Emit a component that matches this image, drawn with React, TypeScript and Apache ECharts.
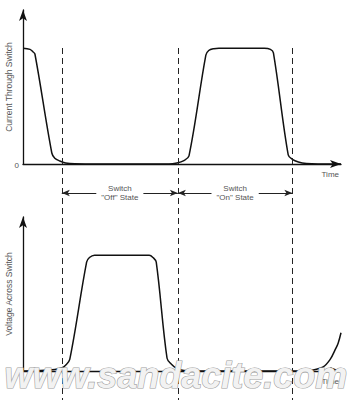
import React, { useEffect, useRef } from "react";
import * as echarts from "echarts";

// time (arbitrary units 0..100) and normalized levels (1 = full)
const currentTime = [0, 2.2, 3.1, 3.75, 9.06, 10.0, 11.56, 13.4, 16.25, 24.1, 45.9, 48.4, 50.6, 52.2, 57.5, 58.4, 60.0, 61.6, 75.9, 77.8, 78.75, 83.4, 84.7, 86.6, 89.1, 92.8, 100];
const currentVal = [1.0, 0.99, 0.97, 0.95, 0.095, 0.05, 0.026, 0.009, 0.002, 0, 0, 0.009, 0.03, 0.07, 0.94, 0.98, 0.996, 1.0, 1.0, 0.99, 0.96, 0.078, 0.04, 0.017, 0.004, 0, 0];

const voltageTime = [0, 5.3, 10, 12.2, 13.4, 14.7, 20, 20.9, 22.5, 39.7, 40.9, 41.9, 45.3, 46.6, 48.4, 50.6, 53.75, 86.6, 91.25, 94.4, 96.6, 98.1, 99.1, 100];
const voltageVal = [0, 0.004, 0.013, 0.026, 0.05, 0.1, 0.94, 0.98, 1.0, 1.0, 0.98, 0.94, 0.11, 0.06, 0.02, 0.004, 0, 0, 0.009, 0.035, 0.1, 0.18, 0.24, 0.33];

const switchEdges = [12.2, 48.7, 84.7];
const stateLabels = ['Switch\n"Off" State', 'Switch\n"On" State'];
const yNames = ["Current Through Switch", "Voltage Across Switch"];
const xName = "Time";
const zeroLabel = "0";

const FONT = "Liberation Sans";
const TXT = "#555";

export default function App() {
  const ref = useRef<HTMLDivElement>(null);
  useEffect(() => {
    if (!ref.current) return;
    const chart = echarts.init(ref.current, null, { renderer: "svg" });
    const yMax = 1.33;
    const mkX = (gi: number, show: boolean) => ({
      type: "value",
      gridIndex: gi,
      min: 0,
      max: 100,
      show,
      name: show ? xName : "",
      nameLocation: "end",
      nameGap: 0,
      nameTextStyle: { color: TXT, fontSize: 8, fontFamily: FONT, align: "right", verticalAlign: "top", padding: [6, 2, 0, 0] },
      axisLine: { show, lineStyle: { color: "#111", width: 1.3 }, symbol: ["none", "arrow"], symbolSize: [6, 11] },
      axisTick: { show: false },
      axisLabel: { show: false },
      splitLine: { show: false },
    });
    const mkY = (gi: number, name: string) => ({
      type: "value",
      gridIndex: gi,
      min: 0,
      max: yMax,
      interval: yMax,
      name,
      nameLocation: "middle",
      nameGap: 10,
      nameMoveOverlap: false,
      nameTextStyle: { color: TXT, fontSize: 8.5, fontFamily: FONT },
      axisLine: { show: true, lineStyle: { color: "#111", width: 1.3 }, symbol: ["none", "arrow"], symbolSize: [6, 11] },
      axisTick: { show: false },
      axisLabel: { show: false },
      splitLine: { show: false },
    });
    const lineStyle = { color: "#111", width: 1.5 };
    const annY = 0.412;
    const gridBase = { left: 23, right: 14, outerBoundsMode: "none", containLabel: false };
    chart.setOption({
      animation: false,
      grid: [
        { ...gridBase, top: 10, bottom: 236 },
        { ...gridBase, top: 217, bottom: 29 },
        { ...gridBase, top: 48, bottom: 0 },
      ],
      xAxis: [mkX(0, true), mkX(1, true), mkX(2, false)],
      yAxis: [
        mkY(0, yNames[0]),
        mkY(1, yNames[1]),
        { type: "value", gridIndex: 2, min: 0, max: 1, inverse: true, show: false },
      ],
      series: [
        {
          type: "line",
          xAxisIndex: 0,
          yAxisIndex: 0,
          data: currentTime.map((t, i) => [t, currentVal[i]]),
          smooth: 0.35,
          symbol: "none",
          lineStyle,
        },
        {
          type: "line",
          xAxisIndex: 1,
          yAxisIndex: 1,
          data: voltageTime.map((t, i) => [t, voltageVal[i]]),
          smooth: 0.35,
          symbol: "none",
          lineStyle,
        },
        {
          type: "line",
          xAxisIndex: 2,
          yAxisIndex: 2,
          data: [[0, 0]],
          symbol: "none",
          lineStyle: { width: 0 },
          silent: true,
          markLine: {
            silent: true,
            symbol: "none",
            lineStyle: { color: "#222", width: 1, type: [6, 4] },
            label: { show: false },
            data: switchEdges.map((x) => ({ xAxis: x })),
          },
        },
        ...stateLabels.map((lab, i) => ({
          type: "line",
          xAxisIndex: 2,
          yAxisIndex: 2,
          data: [[0, 0]],
          symbol: "none",
          color: "#222",
          lineStyle: { width: 0 },
          silent: true,
          markLine: {
            silent: true,
            symbol: ["arrow", "arrow"],
            symbolSize: [5, 8],
            itemStyle: { color: "#222" },
            lineStyle: { color: "#222", width: 1, type: "solid" },
            label: {
              show: true,
              position: "insideMiddle",
              formatter: lab,
              color: TXT,
              fontSize: 8,
              fontFamily: FONT,
              lineHeight: 9,
              align: "center",
              backgroundColor: "#fff",
              padding: [0, 5],
            },
            data: [[{ coord: [switchEdges[i], annY] }, { coord: [switchEdges[i + 1], annY] }]],
          },
        })),
      ],
    });
    const origin = chart.convertToPixel({ xAxisIndex: 0, yAxisIndex: 0 }, [0, 0]) as number[];
    chart.setOption({
      graphic: [
        {
          type: "text",
          x: origin[0] - 4,
          y: origin[1] + 1,
          silent: true,
          style: { text: zeroLabel, fill: TXT, font: `8px '${FONT}'`, align: "right", verticalAlign: "middle" },
        },
        {
          type: "text",
          left: 4,
          top: 357,
          z: 100,
          silent: true,
          style: {
            text: "www.sandacite.com",
            font: "italic bold 36px 'Liberation Sans'",
            fill: "#f2f2f2",
            stroke: "#a0a0a0",
            lineWidth: 1.2,
            shadowColor: "rgba(0,0,0,0.35)",
            shadowBlur: 4,
            shadowOffsetX: 3,
            shadowOffsetY: 3,
          },
        },
      ],
    });
    return () => chart.dispose();
  }, []);
  return <div ref={ref} style={{ width: 355, height: 400, position: "absolute", left: 0, top: 0 }} />;
}
